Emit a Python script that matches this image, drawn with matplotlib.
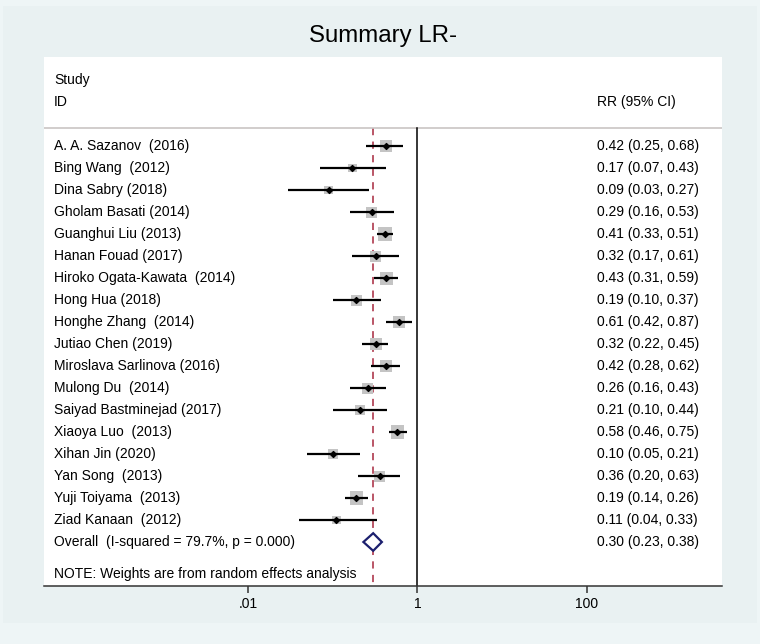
import matplotlib
matplotlib.use("Agg")
import matplotlib.pyplot as plt
from matplotlib.patches import Polygon, Rectangle

plt.rcParams["font.family"] = ["Liberation Sans", "DejaVu Sans"]

# 연구별 데이터
studies = ["A. A. Sazanov  (2016)", "Bing Wang  (2012)", "Dina Sabry (2018)",
           "Gholam Basati (2014)", "Guanghui Liu (2013)", "Hanan Fouad (2017)",
           "Hiroko Ogata-Kawata  (2014)", "Hong Hua (2018)", "Honghe Zhang  (2014)",
           "Jutiao Chen (2019)", "Miroslava Sarlinova (2016)", "Mulong Du  (2014)",
           "Saiyad Bastminejad (2017)", "Xiaoya Luo  (2013)", "Xihan Jin (2020)",
           "Yan Song  (2013)", "Yuji Toiyama  (2013)", "Ziad Kanaan  (2012)"]
rr = [0.42, 0.17, 0.09, 0.29, 0.41, 0.32, 0.43, 0.19, 0.61,
      0.32, 0.42, 0.26, 0.21, 0.58, 0.10, 0.36, 0.19, 0.11]
ci_low = [0.25, 0.07, 0.03, 0.16, 0.33, 0.17, 0.31, 0.10, 0.42,
          0.22, 0.28, 0.16, 0.10, 0.46, 0.05, 0.20, 0.14, 0.04]
ci_high = [0.68, 0.43, 0.27, 0.53, 0.51, 0.61, 0.59, 0.37, 0.87,
           0.45, 0.62, 0.43, 0.44, 0.75, 0.21, 0.63, 0.26, 0.33]
weights = [6.2, 3.3, 3.3, 5.2, 8.7, 5.2, 7.4, 5.2, 6.2,
           6.2, 6.2, 5.2, 4.2, 7.4, 4.2, 5.2, 7.4, 3.3]

overall_label = "Overall  (I-squared = 79.7%, p = 0.000)"
overall = [0.30, 0.23, 0.38]
note = "NOTE: Weights are from random effects analysis"
x_ticks = [0.01, 1, 100]
x_ticklabels = [".01", "1", "100"]

fig = plt.figure(figsize=(7.6, 6.44), dpi=100)
fig.patch.set_facecolor("#eef5f6")
bg = Rectangle((0.004, 21 / 644), 0.992, 0.991 - 21 / 644,
               transform=fig.transFigure, facecolor="#e9f1f2",
               edgecolor="none", zorder=-10)
fig.add_artist(bg)

ax = fig.add_axes([44 / 760, 58 / 644, 678 / 760, 529 / 644])
ax.set_facecolor("white")
ax.set_xscale("log")
ax.set_xlim(10 ** -4.407, 10 ** 3.593)
ax.set_ylim(20.0, -4.05)

n = len(studies)
ys = list(range(n))
y_overall = n
y_note = n + 1.45

# 헤더 구분선
ax.axhline(-0.82, color="#c9c5c3", lw=1.2)
ax.plot([1, 1], [-0.82, 20.0], color="black", lw=1.1)
ax.plot([overall[0], overall[0]], [-0.82, 20.0], color="#b4485a", lw=1.3,
        ls=(0, (4, 3.5)), zorder=1)

# CI 선, 박스, 점
ax.hlines(ys, ci_low, ci_high, color="black", lw=1.6, zorder=3)
ax.scatter(rr, ys, s=[w * 12 for w in weights], marker="s", color="#c4c4c4",
           edgecolor="none", zorder=2)
ax.scatter(rr, ys, s=9, marker="D", color="black", zorder=4)

# 전체 추정치 다이아몬드
est, lo, hi = overall
diamond = Polygon([(lo, y_overall), (est, y_overall - 0.4), (hi, y_overall),
                   (est, y_overall + 0.4)], closed=True, facecolor="white",
                  edgecolor="#1c1f6e", lw=1.6, zorder=4)
ax.add_patch(diamond)

# 텍스트
tr = ax.get_yaxis_transform()
x_left = 10 / 678
x_right = 553 / 678
ax.text(x_left, -3.02, "Study", transform=tr, fontsize=10, va="center")
ax.text(x_left, -2.02, "ID", transform=tr, fontsize=10, va="center")
ax.text(x_right, -2.02, "RR (95% CI)", transform=tr, fontsize=10, va="center")
for y, s, e, l, h in zip(ys, studies, rr, ci_low, ci_high):
    ax.text(x_left, y, s, transform=tr, fontsize=10, va="center")
    ax.text(x_right, y, f"{e:.2f} ({l:.2f}, {h:.2f})", transform=tr,
            fontsize=10, va="center")
ax.text(x_left, y_overall, overall_label, transform=tr, fontsize=10, va="center")
ax.text(x_right, y_overall, f"{est:.2f} ({lo:.2f}, {hi:.2f})", transform=tr,
        fontsize=10, va="center")
ax.text(x_left, y_note, note, transform=tr, fontsize=10, va="center")

# 축
for side in ["top", "left", "right"]:
    ax.spines[side].set_visible(False)
ax.spines["bottom"].set_color("#333333")
ax.spines["bottom"].set_linewidth(1.1)
ax.set_yticks([])
ax.set_xticks(x_ticks)
ax.set_xticklabels(x_ticklabels, fontsize=10)
ax.xaxis.set_minor_locator(matplotlib.ticker.NullLocator())
ax.tick_params(axis="x", direction="out", length=5, width=1.1, color="#333333",
               pad=3)

fig.text(383 / 760, 1 - 36 / 644, "Summary LR-", ha="center", va="center",
         fontsize=17.3)

fig.savefig("out.png", dpi=100, facecolor=fig.get_facecolor())
